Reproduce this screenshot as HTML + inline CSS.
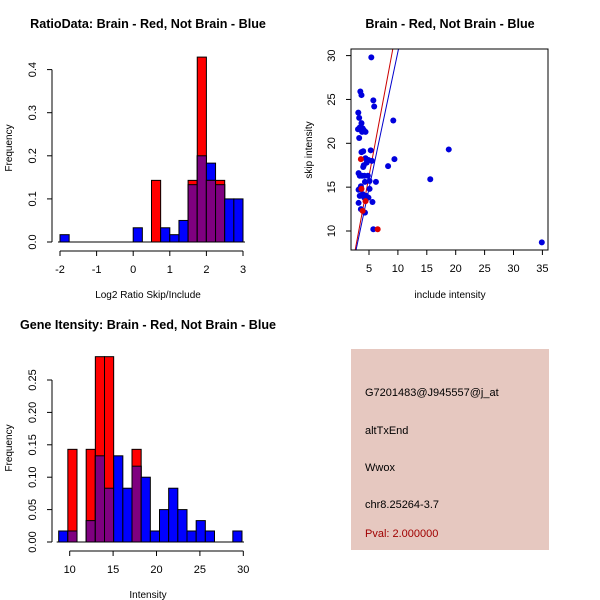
<!DOCTYPE html>
<html><head><meta charset="utf-8"><style>
html,body{margin:0;padding:0;background:#fff;}
svg{display:block;font-family:"Liberation Sans",sans-serif;}
</style></head><body>
<svg id="s" width="600" height="600" viewBox="0 0 600 600">
<rect x="351" y="349" width="198" height="201" fill="#E6C8C0"/>
<g font-size="11">
<text x="365" y="396">G7201483@J945557@j_at</text>
<text x="365" y="434">altTxEnd</text>
<text x="365" y="471">Wwox</text>
<text x="365" y="508">chr8.25264-3.7</text>
<text x="365" y="537" fill="#A00000">Pval: 2.000000</text>
</g>
</svg>
<script>
// ---- Chart 1 data: ratio histogram
const ratioBinStart = -2, ratioBinWidth = 0.25;
const ratioBlue = [0.017,0,0,0,0,0,0,0,0.033,0,0,0.033,0.017,0.05,0.133,0.2,0.183,0.133,0.1,0.1];
const ratioRed  = [0,0,0,0,0,0,0,0,0,0,0.143,0,0,0,0.143,0.429,0.143,0.143,0,0];
const ratioXTicks = [-2,-1,0,1,2,3];
const ratioYTicks = [0,0.1,0.2,0.3,0.4];
// ---- Chart 2 data: scatter
const incBlue = [5.4,3.5,3.7,5.75,5.9,3.15,3.3,9.2,3.7,3.1,3.4,3.9,4.4,3.8,4.1,3.3,18.8,5.3,3.7,4.0,4.4,4.9,9.4,5.5,4.6,4.1,8.3,4.0,3.2,3.4,3.8,4.2,4.8,15.6,5.1,4.3,6.2,3.6,3.4,3.2,5.1,3.4,3.9,4.5,4.9,4.2,3.2,5.6,3.6,4.3,5.75,34.9];
const skipBlue= [29.8,25.9,25.5,24.9,24.2,23.5,22.9,22.6,22.3,21.6,21.8,21.7,21.3,21.3,21.5,20.6,19.3,19.2,19.0,19.1,18.3,18.1,18.2,18.0,17.8,17.5,17.4,17.3,16.6,16.3,16.3,16.3,16.3,15.9,15.7,15.6,15.6,15.1,14.8,14.7,14.8,14.0,14.2,14.0,13.8,13.8,13.2,13.3,12.5,12.1,10.2,8.7];
const incRed  = [3.6,3.7,4.4,3.9,6.5];
const skipRed = [18.2,14.8,13.4,12.3,10.2];
const lineSlope = [3.52,3.12];
const lineIntercept = [-1.35,-0.77];
const scatXTicks = [5,10,15,20,25,30,35];
const scatYTicks = [10,15,20,25,30];
// ---- Chart 3 data: intensity histogram
const intBinStart = 8.73, intBinWidth = 1.056;
const intBlue = [0.017,0.017,0,0.033,0.133,0.083,0.133,0.083,0.117,0.1,0.017,0.05,0.083,0.05,0.017,0.033,0.017,0,0,0.017];
const intRed  = [0,0.143,0,0.143,0.286,0.286,0,0,0.143,0,0,0,0,0,0,0,0,0,0,0];
const intXTicks = [10,15,20,25,30];
const intYTicks = [0,0.05,0.1,0.15,0.2,0.25];

const S = document.getElementById('s');
const NS = 'http://www.w3.org/2000/svg';
function mk(tag, attrs, parent){const e=document.createElementNS(NS,tag);for(const k in attrs)e.setAttribute(k,attrs[k]);(parent||S).appendChild(e);return e;}
function txt(x,y,s,opt,parent){const t=mk('text',Object.assign({x:x,y:y,'font-size':11,'text-anchor':'middle'},opt||{}),parent);t.textContent=s;return t;}
const BLUE='#0000FF', RED='#FF0000', PURP='#7F0080';

function histogram(cfg){
  const g=mk('g',{});
  
  
  const sx=v=>cfg.x0+(v-cfg.xmin)*cfg.kx, sy=v=>cfg.y0-v*cfg.ky;
  cfg.blue.forEach((b,i)=>{
    const r=cfg.red[i], a=cfg.start+i*cfg.w, x1=sx(a), x2=sx(a+cfg.w);
    const parts=[[b,BLUE],[r,RED],[Math.min(b,r),PURP]];
    parts.forEach(([v,c],j)=>{ if(v<=0) return;
      const e=mk('rect',{x:x1,y:sy(v),width:x2-x1,height:sy(0)-sy(v),fill:c,stroke:'#000','stroke-width':1},g);
      
      
    });
  });
  const ya=mk('g',{},g);
  
  
  const yt=cfg.yTicks;
  mk('line',{x1:cfg.yAxisX,x2:cfg.yAxisX,y1:sy(yt[0]),y2:sy(yt[yt.length-1]),stroke:'#000'},ya);
  const lx=cfg.yAxisX-16;
  yt.forEach(v=>{mk('line',{x1:cfg.yAxisX,x2:cfg.yAxisX-5,y1:sy(v),y2:sy(v),stroke:'#000'},ya);
    txt(lx,sy(v),cfg.yFmt(v),{transform:`rotate(-90 ${lx} ${sy(v)})`},ya);});
  const xa=mk('g',{},g);
  
  
  const xt=cfg.xTicks;
  mk('line',{x1:sx(xt[0]),x2:sx(xt[xt.length-1]),y1:cfg.xAxisY,y2:cfg.xAxisY,stroke:'#000'},xa);
  xt.forEach(v=>{mk('line',{x1:sx(v),x2:sx(v),y1:cfg.xAxisY,y2:cfg.xAxisY+5,stroke:'#000'},xa);
    txt(sx(v),cfg.xAxisY+22,String(v),{},xa);});
  mk('line',{x1:cfg.x0+(cfg.start-cfg.xmin)*cfg.kx-2,x2:sx(cfg.start+cfg.blue.length*cfg.w)+2,y1:cfg.y0,y2:cfg.y0,stroke:'#000'},g);
}

histogram({name:'ratio-histogram',blue:ratioBlue,red:ratioRed,start:ratioBinStart,w:ratioBinWidth,
  x0:60,xmin:-2,kx:36.6,y0:242,ky:431,xTicks:ratioXTicks,yTicks:ratioYTicks,yAxisX:52,xAxisY:251,yFmt:v=>v.toFixed(1)});
histogram({name:'intensity-histogram',blue:intBlue,red:intRed,start:intBinStart,w:intBinWidth,
  x0:69.7,xmin:10,kx:8.68,y0:542,ky:648,xTicks:intXTicks,yTicks:intYTicks,yAxisX:52,xAxisY:551,yFmt:v=>v.toFixed(2)});

[[148,28,'RatioData: Brain - Red, Not Brain - Blue','ratio-title'],[450,28,'Brain - Red, Not Brain - Blue','scatter-title'],[148,329,'Gene Itensity: Brain - Red, Not Brain - Blue','intensity-title']].forEach(([x,y,s,n])=>{
  const t=txt(x,y,s,{'font-weight':'bold','font-size':12.6});
  
  
});
[[148,298,'Log2 Ratio Skip/Include','ratio-x-title'],[450,298,'include intensity','scatter-x-title'],[148,598,'Intensity','intensity-x-title']].forEach(([x,y,s,n])=>{
  const t=txt(x,y,s,{'font-size':10});
  
  
});
[[12,148,'Frequency','ratio-y-title'],[312,150,'skip intensity','scatter-y-title'],[12,448,'Frequency','intensity-y-title']].forEach(([x,y,s,n])=>{
  const t=txt(x,y,s,{'font-size':10,transform:`rotate(-90 ${x} ${y})`});
  
  
});

(function(){
  const L=351,R=548,T=49,B=250;
  const sx=v=>369+(v-5)*5.78, sy=v=>231-(v-10)*8.77;
  const g=mk('g',{});
  
  
  mk('clipPath',{id:'cp'},g); mk('rect',{x:L,y:T,width:R-L,height:B-T},g.lastChild);
  const lc=['#CC0000','#0000CC'];
  lineSlope.forEach((m,i)=>{const b=lineIntercept[i];
    const l=mk('line',{x1:sx(0),y1:sy(b),x2:sx(12),y2:sy(m*12+b),stroke:lc[i],'stroke-width':1,'clip-path':'url(#cp)'},g);
    
    
  });
  incBlue.forEach((v,i)=>{const c=mk('circle',{cx:sx(v),cy:sy(skipBlue[i]),r:3,fill:'#0000DD'},g);
    
    });
  incRed.forEach((v,i)=>{const c=mk('circle',{cx:sx(v),cy:sy(skipRed[i]),r:3,fill:'#DD0000'},g);
    
    });
  mk('rect',{x:L,y:T,width:R-L,height:B-T,fill:'none',stroke:'#000'},g);
  scatXTicks.forEach(v=>{mk('line',{x1:sx(v),x2:sx(v),y1:B,y2:B+5,stroke:'#000'},g);txt(sx(v),B+22,String(v),{},g);});
  const lx=L-16;
  scatYTicks.forEach(v=>{mk('line',{x1:L,x2:L-5,y1:sy(v),y2:sy(v),stroke:'#000'},g);
    txt(lx,sy(v),String(v),{transform:`rotate(-90 ${lx} ${sy(v)})`},g);});
})();
</script>
</body></html>
